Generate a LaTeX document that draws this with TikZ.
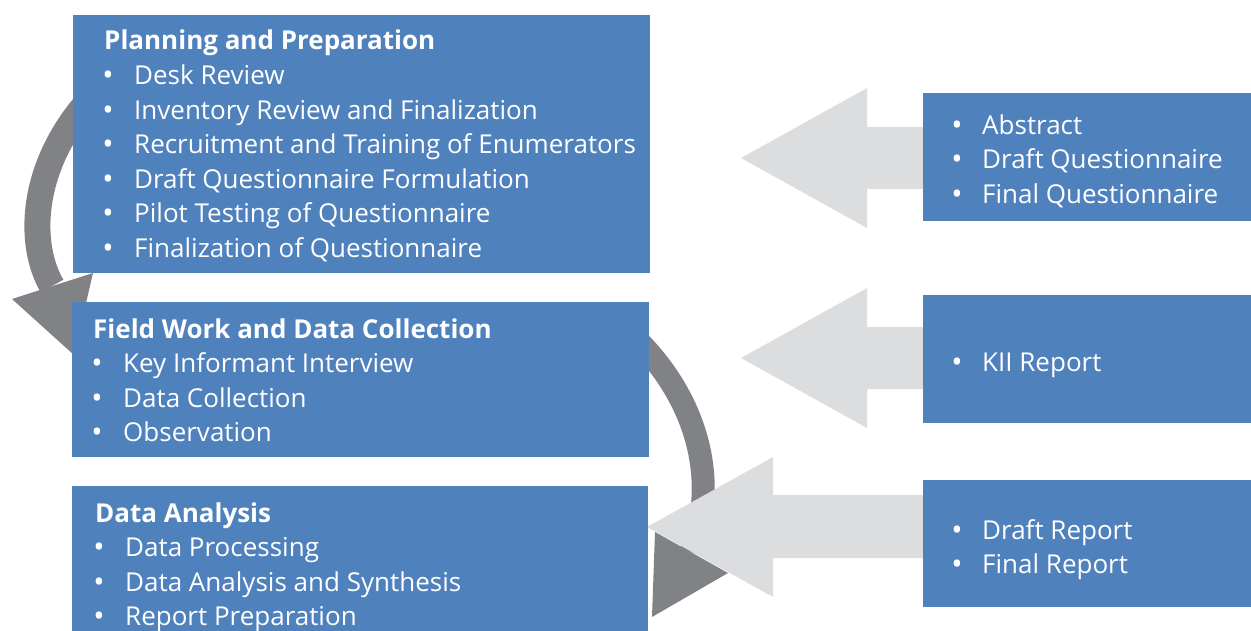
\documentclass[tikz,border=0pt]{standalone}
\usepackage{fontspec}
\setmainfont{Open Sans}
\definecolor{boxblue}{HTML}{4F81BD}
\definecolor{palegrey}{HTML}{DCDDDE}
\definecolor{curvegrey}{HTML}{808285}
\pgfdeclarelayer{back}
\pgfsetlayers{back,main}
\begin{document}
\begin{tikzpicture}[x=1pt,y=-1pt,
  box/.style={fill=boxblue, inner sep=0pt, anchor=north west},
  heading/.style={text=white, font=\bfseries\fontsize{26}{30}\selectfont, anchor=base west, inner sep=0pt},
  item/.style={text=white, font=\fontsize{26}{30}\selectfont, anchor=base west, inner sep=0pt},
  bul/.style={text=white, font=\fontsize{30}{30}\selectfont, anchor=base, inner sep=0pt},
  bendarrow/.style={draw=curvegrey, line width=#1},
  blockarrow/.style={fill=palegrey},
  headfill/.style={fill=curvegrey}]
\useasboundingbox (0,0) rectangle (1251,631);

% process stages
\node[box, minimum width=577pt, minimum height=258pt] (plan) at (73,15) {};
\node[box, minimum width=577pt, minimum height=155pt] (field) at (72,302) {};
\node[box, minimum width=576pt, minimum height=146pt] (analysis) at (72,486) {};

% deliverables
\node[box, minimum width=328pt, minimum height=128pt] (out1) at (923,93) {};
\node[box, minimum width=328pt, minimum height=128pt] (out2) at (923,295) {};
\node[box, minimum width=328pt, minimum height=127pt] (out3) at (923,480) {};

% stage texts
\node[heading] (planh) at (104,50) {Planning and Preparation};
\foreach \t [count=\i] in {Desk Review, Inventory Review and Finalization,
    Recruitment and Training of Enumerators, Draft Questionnaire Formulation,
    Pilot Testing of Questionnaire, Finalization of Questionnaire}{
  \node[bul] (planb\i) at (108,{51+34.6*\i}) {•};
  \node[item] (plani\i) at (134,{50+34.6*\i}) {\t};
}
\node[heading] (fieldh) at (93,338) {Field Work and Data Collection};
\foreach \t [count=\i] in {Key Informant Interview, Data Collection, Observation}{
  \node[bul] (fieldb\i) at (97,{339+34.6*\i}) {•};
  \node[item] (fieldi\i) at (123,{338+34.6*\i}) {\t};
}
\node[heading] (anah) at (95,522) {Data Analysis};
\foreach \t [count=\i] in {Data Processing, Data Analysis and Synthesis, Report Preparation}{
  \node[bul] (anab\i) at (99,{523+34.6*\i}) {•};
  \node[item] (anai\i) at (125,{522+34.6*\i}) {\t};
}

% deliverable texts
\foreach \t [count=\i] in {Abstract, Draft Questionnaire, Final Questionnaire}{
  \node[bul] (outab\i) at (957,{100.5+34.6*\i}) {•};
  \node[item] (outai\i) at (982,{99.5+34.6*\i}) {\t};
}
\node[bul] (outbb1) at (957,372) {•};
\node[item] (outbi1) at (982,371) {KII Report};
\foreach \t [count=\i] in {Draft Report, Final Report}{
  \node[bul] (outcb\i) at (957,{505.4+34.6*\i}) {•};
  \node[item] (outci\i) at (982,{504.4+34.6*\i}) {\t};
}

\begin{pgfonlayer}{back}
  \fill[white] (0,0) rectangle (1251,631);
  % curved flow arrows between the stages
  \draw[bendarrow=26pt] (85,105) .. controls (30,170) and (28,245) .. (52,286);
  \fill[headfill] (12,299) -- (93,273) -- (74,355) -- cycle;
  \draw[bendarrow=23pt] (640,343) .. controls (700,405) and (718,485) .. (691,552);
  \fill[headfill] (655,532) -- (728,573) -- (652,617) -- cycle;
  % block arrows from the deliverables
  \fill[blockarrow] (741,158) -- (867,88) -- (867,127) -- (930,127) -- (930,189)
    -- (867,189) -- (867,228) -- cycle;
  \fill[blockarrow] (741,358) -- (867,288) -- (867,327) -- (930,327) -- (930,389)
    -- (867,389) -- (867,428) -- cycle;
  \fill[blockarrow] (647,527) -- (773,457) -- (773,495) -- (930,495) -- (930,558)
    -- (773,558) -- (773,597) -- cycle;
\end{pgfonlayer}
\end{tikzpicture}
\end{document}
